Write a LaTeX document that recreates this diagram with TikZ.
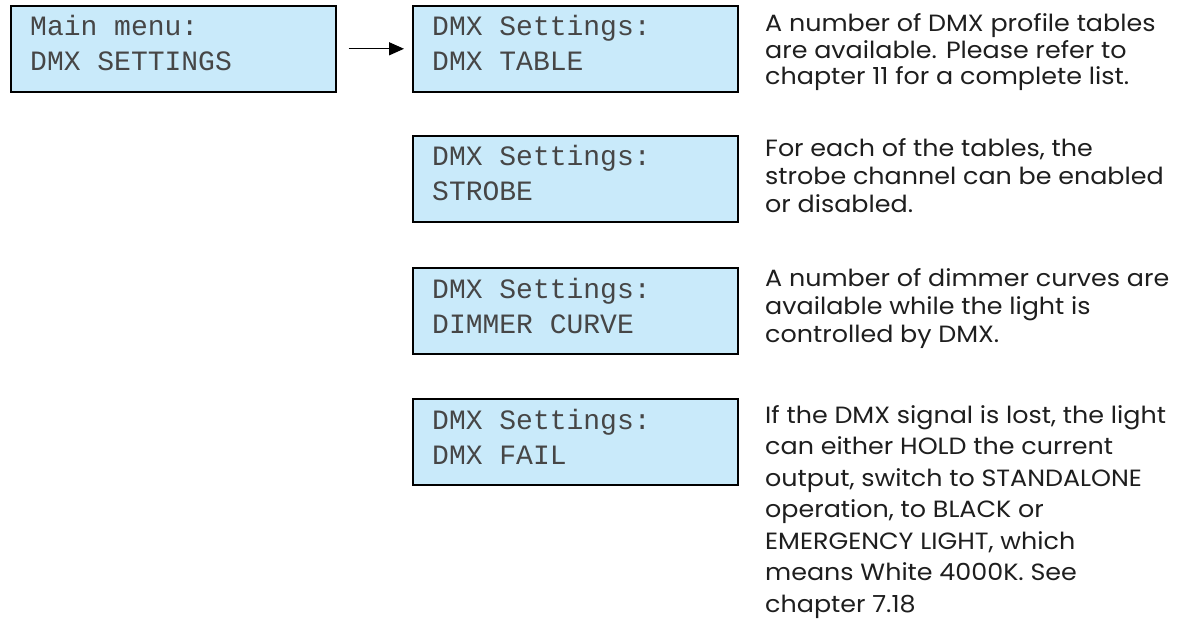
\documentclass[tikz,border=0pt]{standalone}
\usepackage{fontspec}
\usetikzlibrary{arrows.meta}
\newfontfamily\lcdfont{Liberation Mono}
\newfontfamily\descfont[FakeStretch=1.08]{Poppins}
\definecolor{lcdfill}{HTML}{C9EAFA}
\definecolor{lcdink}{HTML}{464646}
\definecolor{descink}{HTML}{1E1E1E}
\begin{document}
\begin{tikzpicture}[x=1pt,y=-1pt,
  lcdbox/.style={draw=black, line width=1.6pt, fill=lcdfill, minimum width=325pt,
    minimum height=86pt, anchor=north west, inner sep=0pt},
  lcdtext/.style={anchor=base west, inner sep=0pt,
    font=\lcdfont\fontsize{28}{28}\selectfont, text=lcdink},
  desc/.style={anchor=base west, inner sep=0pt,
    font=\descfont\fontsize{23.5}{23.5}\selectfont, text=descink},
  link/.style={line width=1.4pt, -{Triangle[length=15pt,width=13pt]}}
]
\useasboundingbox (0,0) rectangle (1193,628);
% LCD boxes
\node[lcdbox] (main) at (10,5) {};
\node[lcdbox] (table) at (412,5) {};
\node[lcdbox] (strobe) at (412,135) {};
\node[lcdbox] (dimmer) at (412,267) {};
\node[lcdbox] (fail) at (412,398) {};
% LCD texts
\node[lcdtext] (main1) at (30,36) {Main menu:};
\node[lcdtext] (main2) at (30,71) {DMX SETTINGS};
\node[lcdtext] (table1) at (432,36) {DMX Settings:};
\node[lcdtext] (table2) at (432,71) {DMX TABLE};
\node[lcdtext] (strobe1) at (432,166) {DMX Settings:};
\node[lcdtext] (strobe2) at (432,201) {STROBE};
\node[lcdtext] (dimmer1) at (432,298) {DMX Settings:};
\node[lcdtext] (dimmer2) at (432,333) {DIMMER CURVE};
\node[lcdtext] (fail1) at (432,429) {DMX Settings:};
\node[lcdtext] (fail2) at (432,464) {DMX FAIL};
% connector
\draw[link, shorten <=12pt, shorten >=8pt] (main) -- (table);
% descriptions
\foreach \l [count=\i from 0] in {{A number of DMX profile tables},{are available. Please refer to},{chapter 11 for a complete list.}}
  \node[desc] (da\i) at (765,32+\i*26.5) {\l};
\foreach \l [count=\i from 0] in {{For each of the tables, the},{strobe channel can be enabled},{or disabled.}}
  \node[desc] (db\i) at (765,157+\i*28) {\l};
\foreach \l [count=\i from 0] in {{A number of dimmer curves are},{available while the light is},{controlled by DMX.}}
  \node[desc] (dc\i) at (765,287+\i*27.5) {\l};
\foreach \l [count=\i from 0] in {{If the DMX signal is lost, the light},{can either HOLD the current},{output, switch to STANDALONE},{operation, to BLACK or},{EMERGENCY LIGHT, which},{means White 4000K. See},{chapter 7.18}}
  \node[desc] (dd\i) at (765,423+\i*31.5) {\l};
\end{tikzpicture}
\end{document}
